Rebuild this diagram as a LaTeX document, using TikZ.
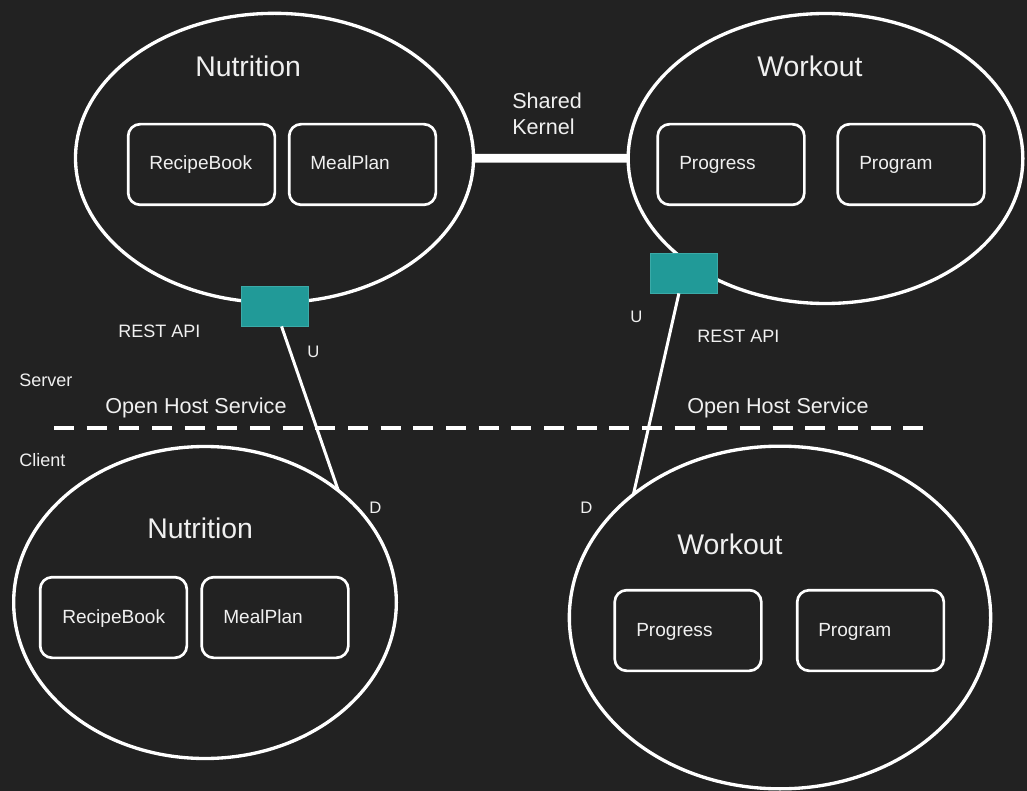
\documentclass[tikz,border=0pt]{standalone}
\usepackage{fontspec}
\setmainfont{Liberation Sans}
\usetikzlibrary{shapes.geometric}
\definecolor{bg}{HTML}{222222}
\definecolor{tealfill}{HTML}{219A98}
\definecolor{tealline}{HTML}{3BAAA8}
\definecolor{fg}{HTML}{F0F0F0}
\begin{document}
\begin{tikzpicture}[x=0.75pt,y=-0.75pt,
  ctx/.style={ellipse, draw=white, line width=2.5pt, inner sep=0pt, outer sep=0pt},
  ent/.style={rectangle, rounded corners=9pt, draw=white, line width=2pt,
    minimum width=110pt, minimum height=60.5pt, inner sep=0pt},
  api/.style={rectangle, fill=tealfill, draw=tealline, line width=0.6pt,
    minimum width=50.25pt, minimum height=30pt, inner sep=0pt},
  lbl/.style={text=fg, anchor=base west, inner sep=0pt},
  title/.style={lbl, font=\fontsize{21.3pt}{25pt}\selectfont},
  boxtxt/.style={lbl, font=\fontsize{14.3pt}{17pt}\selectfont},
  note/.style={lbl, font=\fontsize{16.2pt}{20pt}\selectfont},
  small/.style={lbl, font=\fontsize{13.5pt}{16pt}\selectfont},
  tiny/.style={lbl, font=\fontsize{12.5pt}{15pt}\selectfont},
  link/.style={draw=white, line width=2.25pt},
  kernel/.style={draw=white, line width=6.5pt},
  sep/.style={draw=white, line width=2.6pt, dash pattern=on 15pt off 9.5pt}
]
\fill[bg] (0,0) rectangle (1027,791);
\useasboundingbox (0,0) rectangle (1027,791);

% contexts (ellipses)
\node[ctx, minimum width=298.5pt, minimum height=217pt] (tl) at (274.5,158) {};
\node[ctx, minimum width=296pt, minimum height=217.5pt] (tr) at (825.5,158.5) {};
\node[ctx, minimum width=287pt, minimum height=234pt] (bl) at (205,602.5) {};
\node[ctx, minimum width=316pt, minimum height=257pt] (br) at (780,617.5) {};

% entity boxes
\node[ent] (tlrb) at (201.5,164.5) {};
\node[ent] (tlmp) at (362.5,164.5) {};
\node[ent] (trpg) at (731,164.5) {};
\node[ent] (trpm) at (911,164.5) {};
\node[ent] (blrb) at (113.5,617.5) {};
\node[ent] (blmp) at (275,617.5) {};
\node[ent] (brpg) at (688,630.5) {};
\node[ent] (brpm) at (870.5,630.5) {};

% titles
\node[title] (tlt) at (195,77) {Nutrition};
\node[title] (trt) at (757,77) {Workout};
\node[title] (blt) at (147,538) {Nutrition};
\node[title] (brt) at (677,554) {Workout};

% box texts
\node[boxtxt] at (149,170) {RecipeBook};
\node[boxtxt] at (310,170) {MealPlan};
\node[boxtxt] at (679,170) {Progress};
\node[boxtxt] at (859,170) {Program};
\node[boxtxt] at (62,623) {RecipeBook};
\node[boxtxt] at (223,623) {MealPlan};
\node[boxtxt] at (636,636) {Progress};
\node[boxtxt] at (818,636) {Program};

% shared kernel
\draw[kernel] (tl) -- (tr);
\node[note] (sk1) at (512,109) {Shared};
\node[note] (sk2) at (512,135) {Kernel};

% API boxes
\node[api] (tlapi) at (274.5,306) {};
\node[api] (trapi) at (683.5,273) {};

% upstream / downstream links
\draw[link] (tlapi) -- (bl.40.3);
\draw[link] (trapi) -- (br.140.8);

% separator
\coordinate (sepL) at (54,428);
\coordinate (sepR) at (927,428);
\draw[sep] (sepL) -- (sepR);

% labels
\node[small] (ra1) at (118,338) {REST API};
\node[small] (ra2) at (697,342) {REST API};
\node[tiny] (u1) at (307,357) {U};
\node[tiny] (u2) at (630,323) {U};
\node[tiny] (d1) at (369,513) {D};
\node[tiny] (d2) at (580,513) {D};
\node[small] (srv) at (19,386) {Server};
\node[small] (cli) at (19,466) {Client};
\node[note] (ohs1) at (105,413) {Open Host Service};
\node[note] (ohs2) at (687,413) {Open Host Service};
\end{tikzpicture}
\end{document}
